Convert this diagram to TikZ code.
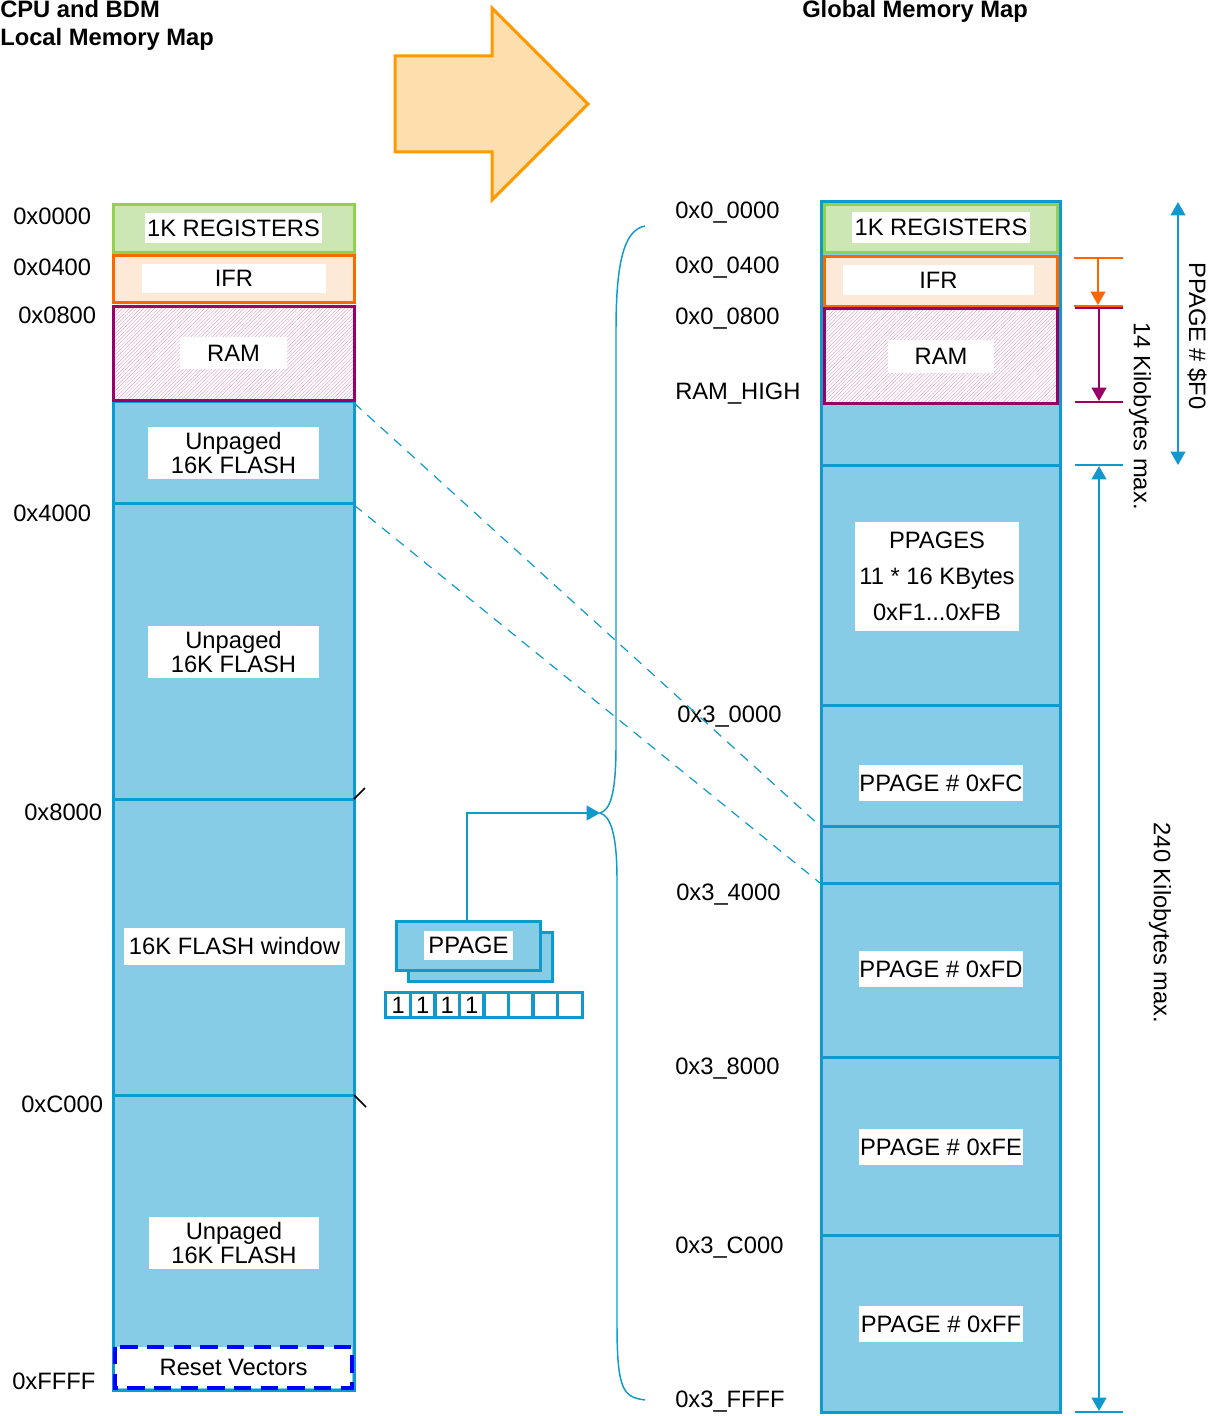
\documentclass[tikz,border=0pt]{standalone}
\usepackage{fontspec}
\setmainfont{Liberation Sans}
\usetikzlibrary{arrows.meta,patterns.meta}
\definecolor{bord}{RGB}{16,153,204}
\definecolor{bfill}{RGB}{135,204,230}
\definecolor{gbord}{RGB}{146,208,80}
\definecolor{gfill}{RGB}{204,230,180}
\definecolor{obord}{RGB}{255,102,0}
\definecolor{ofill}{RGB}{253,233,216}
\definecolor{pbord}{RGB}{153,0,102}
\definecolor{phatch}{RGB}{220,165,200}
\definecolor{abord}{RGB}{255,153,0}
\definecolor{afill}{RGB}{255,222,173}
\definecolor{rvblue}{RGB}{0,0,255}
\newcommand{\lblfont}{\fontsize{17.8}{18}\selectfont}
\begin{document}
\begin{tikzpicture}[x=0.75pt,y=-0.75pt,
  lbl/.style={font=\lblfont,inner sep=0pt,anchor=base west},
  ttl/.style={font=\lblfont\bfseries,inner sep=0pt,anchor=base west},
  tbox/.style={fill=white,inner sep=0pt,font=\lblfont,align=center},
  colbox/.style={draw=bord,fill=bfill,line width=2.25pt},
  divl/.style={draw=bord,line width=2.25pt},
  regbox/.style={draw=gbord,fill=gfill,line width=2.25pt},
  ifrbox/.style={draw=obord,fill=ofill,line width=2.25pt},
  ramedge/.style={draw=pbord,line width=2.25pt},
  ramhatch/.style={pattern={Lines[angle=45,distance=1.9pt,line width=0.35pt]},pattern color=phatch},
  dimtip/.style={-{Triangle[length=10pt,width=11pt]}},
  dimtips/.style={{Triangle[length=10pt,width=11pt]}-{Triangle[length=10pt,width=11pt]}},
  mapline/.style={draw=bord,line width=0.9pt,dash pattern=on 7.5pt off 6pt}
]
\useasboundingbox (0,0) rectangle (1211,1416);

% titles
\node[ttl] (t1) at (0,18) {CPU and BDM};
\node[ttl] (t2) at (0,46) {Local Memory Map};
\node[ttl] (t3) at (802,18) {Global Memory Map};

% big arrow
\draw[draw=abord,fill=afill,line width=2.25pt,line join=miter]
  (395,56) -- (492,56) -- (492,8) -- (588,104) -- (492,200) -- (492,152) -- (395,152) -- cycle;

% ===== left column =====
\path[colbox] (113,401) rectangle (354,1390);
\draw[divl] (113,503) -- (354,503);
\draw[divl] (113,799) -- (354,799);
\draw[divl] (113,1095) -- (354,1095);
\path[regbox] (113,204) rectangle (354,252);
\path[ifrbox] (113,255) rectangle (354,302);
\fill[white] (113,306) rectangle (354,400);
\path[ramhatch] (113,306) rectangle (354,400);
\path[ramedge] (113,306) rectangle (354,400);
\draw[rvblue,fill=white,line width=2.6pt,dash pattern=on 13pt off 7pt] (115,1347) rectangle (352,1388);

\node[tbox,minimum width=132.75pt,minimum height=22.5pt] (regL) at (233.5,228) {1K REGISTERS};
\node[tbox,minimum width=138pt,minimum height=21.75pt] (ifrL) at (234,278.5) {IFR};
\node[tbox,minimum width=80.25pt,minimum height=24pt] (ramL) at (233.5,353) {RAM};
\node[tbox,minimum width=128.25pt,minimum height=39pt] (unp1) at (233.5,453) {Unpaged\\16K FLASH};
\node[tbox,minimum width=128.25pt,minimum height=39pt] (unp2) at (233.5,652) {Unpaged\\16K FLASH};
\node[tbox,minimum width=165.75pt,minimum height=27.75pt] (win) at (234.5,946.5) {16K FLASH window};
\node[tbox,minimum width=127.5pt,minimum height=39pt] (unp3) at (234,1243) {Unpaged\\16K FLASH};
\node[font=\lblfont,inner sep=0pt] (rst) at (233.5,1367.5) {Reset Vectors};

% ticks
\draw[black,line width=1.2pt] (354,799) -- (365,788);
\draw[black,line width=1.2pt] (354,1095) -- (366,1107);

% left labels
\node[lbl] (a0) at (13,224.5) {0x0000};
\node[lbl] (a1) at (13,275.5) {0x0400};
\node[lbl] (a2) at (18,323.5) {0x0800};
\node[lbl] (a3) at (13,521.5) {0x4000};
\node[lbl] (a4) at (24,820.5) {0x8000};
\node[lbl] (a5) at (21,1112.5) {0xC000};
\node[lbl] (a6) at (12,1389.5) {0xFFFF};

% ===== right column =====
\path[colbox] (821,201) rectangle (1060,1412);
\draw[divl] (821,465) -- (1060,465);
\draw[divl] (821,705) -- (1060,705);
\draw[divl] (821,826) -- (1060,826);
\draw[divl] (821,883) -- (1060,883);
\draw[divl] (821,1057) -- (1060,1057);
\draw[divl] (821,1235) -- (1060,1235);
\path[regbox] (824,204) rectangle (1057,252);
\path[ifrbox] (824,256) rectangle (1057,306);
\fill[white] (824,308) rectangle (1057,403);
\path[ramhatch] (824,308) rectangle (1057,403);
\path[ramedge] (824,308) rectangle (1057,403);

\node[tbox,minimum width=133.5pt,minimum height=23.25pt] (regR) at (941,227.5) {1K REGISTERS};
\node[tbox,minimum width=143.25pt,minimum height=22.5pt] (ifrR) at (938.5,280) {IFR};
\node[tbox,minimum width=79.5pt,minimum height=24.75pt] (ramR) at (941,356.5) {RAM};
\node[tbox,minimum width=123pt,minimum height=81.75pt,font=\fontsize{17.8}{27}\selectfont] (pps) at (937,576.5) {PPAGES\\11 * 16 KBytes\\0xF1...0xFB};
\node[tbox,minimum width=123pt,minimum height=27pt] (pfc) at (941,783) {PPAGE \# 0xFC};
\node[tbox,minimum width=123pt,minimum height=27pt] (pfd) at (941,969) {PPAGE \# 0xFD};
\node[tbox,minimum width=123pt,minimum height=27pt] (pfe) at (941,1147) {PPAGE \# 0xFE};
\node[tbox,minimum width=123pt,minimum height=27pt] (pff) at (941,1324) {PPAGE \# 0xFF};

% right labels
\node[lbl] (b0) at (675,218.5) {0x0\_0000};
\node[lbl] (b1) at (675,273.5) {0x0\_0400};
\node[lbl] (b2) at (675,324.5) {0x0\_0800};
\node[lbl] (b3) at (675,399.5) {RAM\_HIGH};
\node[lbl] (b4) at (677,722.5) {0x3\_0000};
\node[lbl] (b5) at (676,900.5) {0x3\_4000};
\node[lbl] (b6) at (675,1074.5) {0x3\_8000};
\node[lbl] (b7) at (675,1253.5) {0x3\_C000};
\node[lbl] (b8) at (675,1407.5) {0x3\_FFFF};

% mapping dashed lines
\coordinate (m1a) at (354,403);
\coordinate (m1b) at (820,826);
\coordinate (m2a) at (354,505);
\coordinate (m2b) at (820,883);
\draw[mapline] (m1a) -- (m1b);
\draw[mapline] (m2a) -- (m2b);

% brace
\coordinate (btip) at (600,813);
\draw[bord,line width=1.1pt]
  (645,226) .. controls (624,230) and (616,262) .. (616,330)
  -- (616,745) .. controls (616,795) and (610,810) .. (btip)
  .. controls (610,816) and (617,832) .. (617,880)
  -- (617,1325) .. controls (617,1392) and (624,1397) .. (645,1400);

% PPAGE register
\node[draw=bord,fill=bfill,line width=2.25pt,minimum width=108pt,minimum height=36.75pt,inner sep=0pt] (ppback) at (480,957) {};
\node[draw=bord,fill=bfill,line width=2.25pt,minimum width=108pt,minimum height=36.75pt,inner sep=0pt] (ppfront) at (468.5,945.5) {};
\node[tbox,minimum width=66.75pt,minimum height=21.75pt] (pplbl) at (468.5,945.5) {PPAGE};
\foreach \i in {0,...,7} {
  \node[draw=bord,line width=2.25pt,minimum width=18.4pt,minimum height=18.75pt,inner sep=0pt,font=\lblfont] (bit\i) at ({398.25+24.5*\i},1005) {\ifnum\i<4 1\fi};
}
\draw[bord,line width=1.5pt,-{Triangle[length=10pt,width=11pt]}] (ppfront.north -| 467,0) |- (btip);

% dimension markers
\draw[obord,line width=1.5pt] (1074,258) -- (1123,258);
\draw[obord,line width=1.5pt] (1074,306) -- (1123,306);
\coordinate (o1) at (1098,258);
\coordinate (o2) at (1098,305);
\draw[obord,line width=1.5pt,dimtip] (o1) -- (o2);
\draw[pbord,line width=1.5pt] (1075,308) -- (1123,308);
\draw[pbord,line width=1.5pt] (1075,402) -- (1123,402);
\coordinate (p1) at (1099,308);
\coordinate (p2) at (1099,401);
\draw[pbord,line width=1.5pt,dimtip] (p1) -- (p2);
\coordinate (f1) at (1178,202);
\coordinate (f2) at (1178,465);
\draw[bord,line width=1.5pt,dimtips] (f1) -- (f2);
\draw[bord,line width=1.5pt] (1075,465) -- (1123,465);
\draw[bord,line width=1.5pt] (1075,1412) -- (1123,1412);
\coordinate (k1) at (1099,466);
\coordinate (k2) at (1099,1411);
\draw[bord,line width=1.5pt,dimtips] (k1) -- (k2);

\node[font=\lblfont,inner sep=0pt,rotate=-90] (tf0) at (1197,336) {PPAGE \# \$F0};
\node[font=\lblfont,inner sep=0pt,rotate=-90] (t14) at (1140,416) {14 Kilobytes max.};
\node[font=\lblfont,inner sep=0pt,rotate=-90] (t240) at (1160,923) {240 Kilobytes max.};
\end{tikzpicture}
\end{document}
